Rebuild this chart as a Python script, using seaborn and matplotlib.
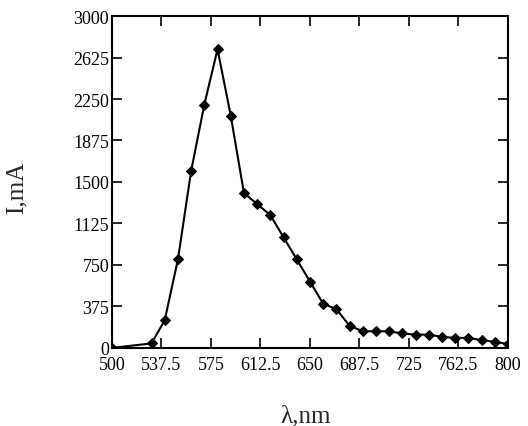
import numpy as np
import pandas as pd
import matplotlib
matplotlib.use("Agg")
import matplotlib.pyplot as plt
import seaborn as sns

# spectrum values
wavelength = [500, 530, 540, 550, 560, 570, 580, 590, 600, 610, 620, 630, 640,
              650, 660, 670, 680, 690, 700, 710, 720, 730, 740, 750, 760, 770,
              780, 790, 800]
current = [0, 40, 250, 800, 1600, 2200, 2700, 2100, 1400, 1300, 1200, 1000, 800,
           600, 400, 350, 200, 150, 150, 150, 130, 120, 120, 100, 90, 90,
           70, 55, 35]

x_ticks = [500, 537.5, 575, 612.5, 650, 687.5, 725, 762.5, 800]
x_tick_labels = ["500", "537.5", "575", "612.5", "650", "687.5", "725", "762.5", "800"]
y_ticks = [0, 375, 750, 1125, 1500, 1875, 2250, 2625, 3000]
y_tick_labels = ["0", "375", "750", "1125", "1500", "1875", "2250", "2625", "3000"]

df = pd.DataFrame({"wavelength": wavelength, "current": current})

sns.set_style("ticks")
plt.rcParams['font.family'] = ['Liberation Serif', 'DejaVu Serif']

fig = plt.figure(figsize=(5.28, 4.27), dpi=100)
ax = fig.add_axes([0.212, 0.183, 0.750, 0.777])

sns.lineplot(x="wavelength", y="current", data=df, ax=ax, color="black",
             linewidth=1.5, marker="D", markersize=5.5, markeredgecolor="black")

ax.set_xlim(500, 800)
ax.set_ylim(0, 3000)
ax.set_xticks(x_ticks)
ax.set_xticklabels(x_tick_labels)
ax.set_yticks(y_ticks)
ax.set_yticklabels(y_tick_labels)

ax.tick_params(direction="in", length=7, width=1.2, top=True, right=True,
               labelsize=13, pad=2, colors="black")
ax.tick_params(axis="x", pad=6)
for s in ax.spines.values():
    s.set_linewidth(1.5)
    s.set_color("black")

ax.set_xlabel("λ,nm", fontsize=18)
ax.set_ylabel("I,mA", fontsize=18)
ax.xaxis.set_label_coords(0.49, -0.172)
ax.yaxis.set_label_coords(-0.212, 0.485)

fig.savefig("out.png", dpi=100)
